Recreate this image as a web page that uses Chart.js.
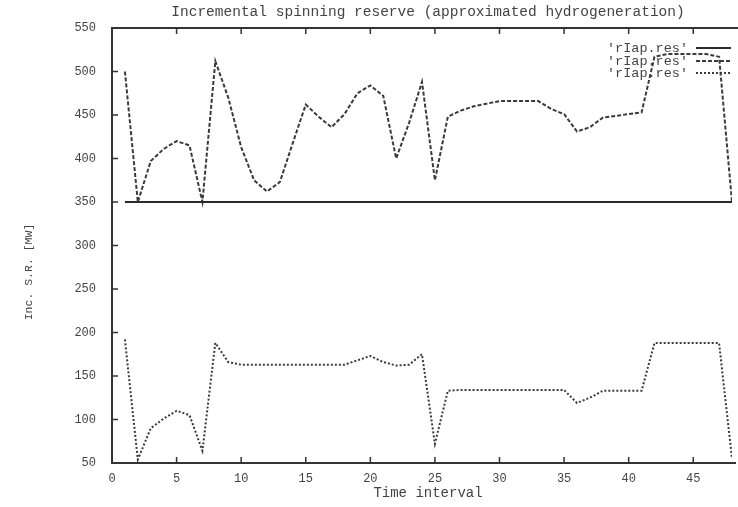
<!DOCTYPE html>
<html><head><meta charset="utf-8">
<script src="https://cdn.jsdelivr.net/npm/chart.js@4/dist/chart.umd.min.js"></script>
<style>html,body{margin:0;padding:0;background:#fff}#wrap{width:738px;height:507px}</style>
</head><body><div id="wrap"><canvas id="c" width="738" height="507"></canvas></div>
<script>
const chartTitle = "Incremental spinning reserve (approximated hydrogeneration)";
const xTitle = "Time interval";
const yTitle = "Inc. S.R. [MW]";
const seriesNames = ["'rIap.res'", "'rIap.res'", "'rIap.res'"];
const timeIntervals = [1,2,3,4,5,6,7,8,9,10,11,12,13,14,15,16,17,18,19,20,21,22,23,24,25,26,27,28,29,30,31,32,33,34,35,36,37,38,39,40,41,42,43,44,45,46,47,48];
const solidValues = [350,350,350,350,350,350,350,350,350,350,350,350,350,350,350,350,350,350,350,350,350,350,350,350,350,350,350,350,350,350,350,350,350,350,350,350,350,350,350,350,350,350,350,350,350,350,350,350];
const dashedValues = [500,350,397,411,420,415,350,512,470,413,375,362,373,418,462,448,436,451,475,484,472,400,441,488,375,448,455,460,463,466,466,466,466,457,451,431,436,447,449,451,453,517,520,520,520,520,517,350];
const dottedValues = [192,54,90,101,110,105,64,188,166,163,163,163,163,163,163,163,163,163,168,173,166,162,163,175,72,133,134,134,134,134,134,134,134,134,134,119,125,133,133,133,133,188,188,188,188,188,188,55];
const xTickValues = [0,5,10,15,20,25,30,35,40,45];
const yTickValues = [50,100,150,200,250,300,350,400,450,500,550];

const ink = '#333333';
const textInk = '#444444';
const mono = '"Liberation Mono", "DejaVu Sans Mono", monospace';

function pts(vals){ return timeIntervals.map((t,i)=>({x:t,y:vals[i]})); }

const decor = {
  id: 'decor',
  beforeDatasetsDraw(chart){
    const ctx = chart.ctx;
    ctx.save();
    ctx.font = '13.5px ' + mono;
    ctx.fillStyle = textInk;
    ctx.textAlign = 'right';
    ctx.textBaseline = 'middle';
    const rows = [48, 61, 73];
    chart.data.datasets.forEach((ds,i)=>{
      ctx.fillText(seriesNames[i], 688, rows[i]);
      ctx.beginPath();
      ctx.strokeStyle = ds.borderColor;
      ctx.lineWidth = 2;
      ctx.setLineDash(ds.borderDash || []);
      ctx.moveTo(696, rows[i]); ctx.lineTo(731, rows[i]);
      ctx.stroke();
    });
    ctx.restore();
  },
  afterDatasetsDraw(chart){
    const ctx = chart.ctx, a = chart.chartArea;
    const xs = chart.scales.x, ys = chart.scales.y;
    ctx.save();
    ctx.strokeStyle = ink;
    ctx.lineWidth = 2;
    ctx.setLineDash([]);
    ctx.beginPath();
    ctx.moveTo(a.left, a.top); ctx.lineTo(a.left, a.bottom);
    ctx.moveTo(a.left-1, a.bottom); ctx.lineTo(736, a.bottom);
    ctx.moveTo(a.left-1, a.top); ctx.lineTo(738, a.top);
    ctx.stroke();
    ctx.lineWidth = 1.5;
    ctx.beginPath();
    yTickValues.forEach(v=>{
      const y = ys.getPixelForValue(v);
      ctx.moveTo(a.left, y); ctx.lineTo(a.left+6, y);
    });
    xTickValues.forEach(v=>{
      if (v === 0) return;
      const x = xs.getPixelForValue(v);
      ctx.moveTo(x, a.bottom); ctx.lineTo(x, a.bottom-6);
      ctx.moveTo(x, a.top); ctx.lineTo(x, a.top+6);
    });
    ctx.stroke();
    ctx.fillStyle = textInk;
    ctx.textAlign = 'center';
    ctx.textBaseline = 'middle';
    ctx.font = '14.5px ' + mono;
    ctx.fillText(chartTitle, 428, 12);
    ctx.font = '14px ' + mono;
    ctx.fillText(xTitle, 428, 493);
    ctx.save();
    ctx.translate(29, 272);
    ctx.rotate(-Math.PI/2);
    ctx.font = '11.5px ' + mono;
    ctx.fillText(yTitle, 0, 0);
    ctx.restore();
    ctx.restore();
  }
};

new Chart(document.getElementById('c'), {
  type: 'line',
  data: {
    datasets: [
      {label: seriesNames[0], data: pts(solidValues), borderColor: '#2a2a2a', borderWidth: 2, pointRadius: 0, tension: 0, fill: false},
      {label: seriesNames[1], data: pts(dashedValues), borderColor: '#3a3a3a', borderWidth: 2, borderDash: [4,2], pointRadius: 0, tension: 0, fill: false},
      {label: seriesNames[2], data: pts(dottedValues), borderColor: '#3a3a3a', borderWidth: 2, borderDash: [2,2], pointRadius: 0, tension: 0, fill: false}
    ]
  },
  options: {
    responsive: false,
    animation: false,
    devicePixelRatio: 1,
    layout: {padding: {top: 28, right: 6, left: 0, bottom: 0}},
    plugins: {legend: {display: false}, title: {display: false}, tooltip: {enabled: false}},
    scales: {
      x: {
        type: 'linear', min: 0, max: 48,
        grid: {display: false, drawTicks: false},
        border: {display: false},
        ticks: {stepSize: 5, padding: 9, color: textInk, font: {family: mono, size: 12}, maxRotation: 0, autoSkip: false},
        afterBuildTicks: s => { s.ticks = xTickValues.map(v => ({value: v})); },
        afterFit: s => { s.height = 44; }
      },
      y: {
        type: 'linear', min: 50, max: 550,
        grid: {display: false, drawTicks: false},
        border: {display: false},
        ticks: {stepSize: 50, padding: 16, color: textInk, font: {family: mono, size: 12}},
        afterBuildTicks: s => { s.ticks = yTickValues.map(v => ({value: v})); },
        afterFit: s => { s.width = 112; }
      }
    }
  },
  plugins: [decor]
});
</script>
</body></html>
